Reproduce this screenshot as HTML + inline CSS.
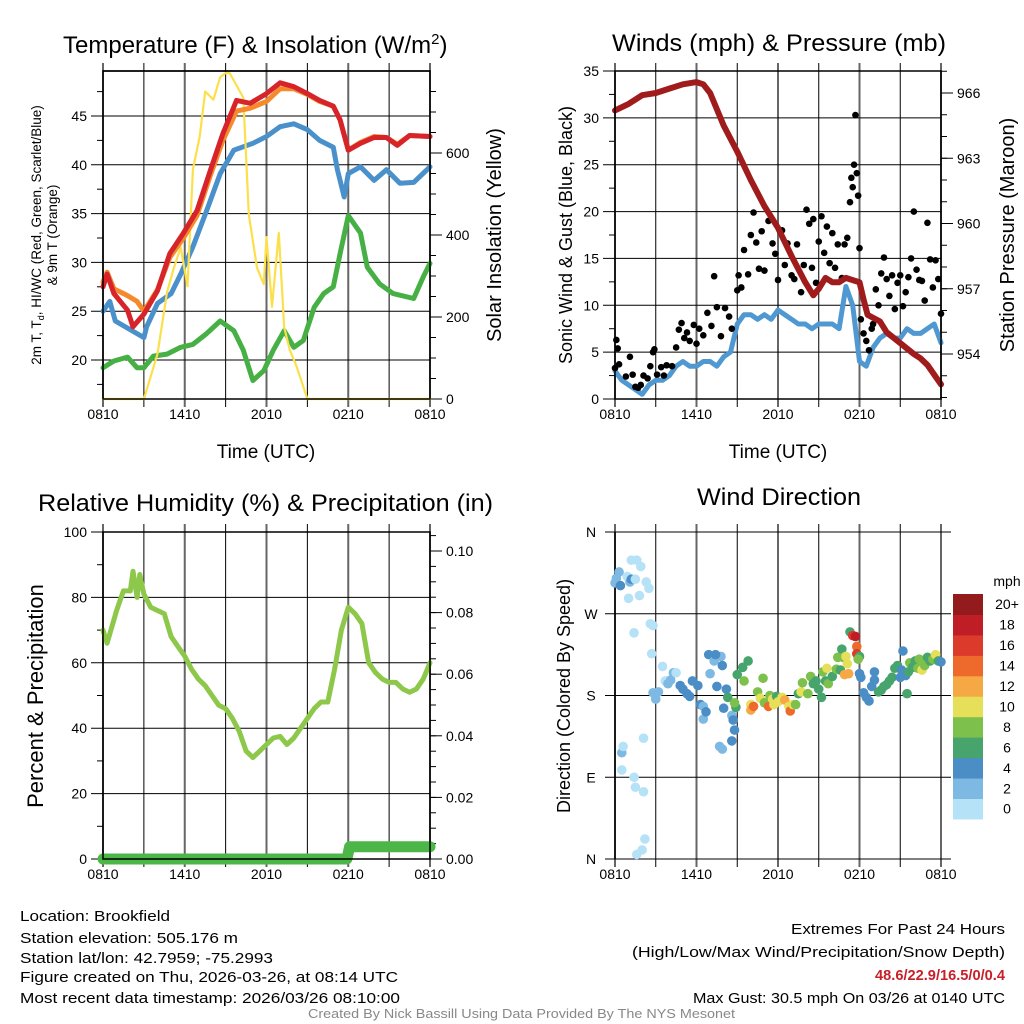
<!DOCTYPE html>
<html><head><meta charset="utf-8">
<style>
html,body{margin:0;padding:0;background:#fff;}
svg{display:block;font-family:"Liberation Sans",Arial,sans-serif;}
</style></head>
<body>
<svg id="fig" width="1024" height="1024" viewBox="0 0 1024 1024" xmlns="http://www.w3.org/2000/svg">
<g id="txt" fill="#000">
<text x="63" y="53" font-size="24">Temperature (F) &amp; Insolation (W/m<tspan dy="-9" font-size="15">2</tspan><tspan dy="9">)</tspan></text>
<text x="612" y="51" font-size="24" textLength="334" lengthAdjust="spacingAndGlyphs">Winds (mph) &amp; Pressure (mb)</text>
<text x="38" y="511" font-size="24" textLength="455" lengthAdjust="spacingAndGlyphs">Relative Humidity (%) &amp; Precipitation (in)</text>
<text x="697" y="505" font-size="24" textLength="164" lengthAdjust="spacingAndGlyphs">Wind Direction</text>
<text x="266" y="458" font-size="19" text-anchor="middle">Time (UTC)</text>
<text x="778" y="458" font-size="19" text-anchor="middle">Time (UTC)</text>
<text transform="translate(41,235) rotate(-90)" font-size="13.5" text-anchor="middle">2m T, T<tspan dy="3" font-size="9">d</tspan><tspan dy="-3">, HI/WC (Red, Green, Scarlet/Blue)</tspan></text>
<text transform="translate(57,235) rotate(-90)" font-size="13.5" text-anchor="middle">&amp; 9m T (Orange)</text>
<text transform="translate(501,235) rotate(-90)" font-size="20" text-anchor="middle">Solar Insolation (Yellow)</text>
<text transform="translate(572,235) rotate(-90)" font-size="18" text-anchor="middle">Sonic Wind &amp; Gust (Blue, Black)</text>
<text transform="translate(1014,235) rotate(-90)" font-size="20" text-anchor="middle">Station Pressure (Maroon)</text>
<text transform="translate(43,696) rotate(-90)" font-size="22" text-anchor="middle">Percent &amp; Precipitation</text>
<text transform="translate(570,696) rotate(-90)" font-size="18" text-anchor="middle">Direction (Colored By Speed)</text>
<text x="1007" y="586" font-size="14" text-anchor="middle">mph</text>
<g font-size="15">
<text x="20" y="921" textLength="150" lengthAdjust="spacingAndGlyphs">Location: Brookfield</text>
<text x="20" y="943" textLength="218" lengthAdjust="spacingAndGlyphs">Station elevation: 505.176 m</text>
<text x="20" y="963" textLength="253" lengthAdjust="spacingAndGlyphs">Station lat/lon: 42.7959; -75.2993</text>
<text x="20" y="982" textLength="378" lengthAdjust="spacingAndGlyphs">Figure created on Thu, 2026-03-26, at 08:14 UTC</text>
<text x="20" y="1003" textLength="380" lengthAdjust="spacingAndGlyphs">Most recent data timestamp: 2026/03/26 08:10:00</text>
</g>
<g font-size="15">
<text x="791" y="934" textLength="214" lengthAdjust="spacingAndGlyphs">Extremes For Past 24 Hours</text>
<text x="632" y="957" textLength="373" lengthAdjust="spacingAndGlyphs">(High/Low/Max Wind/Precipitation/Snow Depth)</text>
<text x="875" y="980" textLength="130" lengthAdjust="spacingAndGlyphs" fill="#c8202a" font-weight="bold">48.6/22.9/16.5/0/0.4</text>
<text x="693" y="1003" textLength="312" lengthAdjust="spacingAndGlyphs">Max Gust: 30.5 mph On 03/26 at 0140 UTC</text>
</g>
<text x="308" y="1018" font-size="12.5" textLength="427" lengthAdjust="spacingAndGlyphs" fill="#888">Created By Nick Bassill Using Data Provided By The NYS Mesonet</text>
</g>
</svg>
<script>
// ---------- DATA ----------
const timeLabels = ["0810","1410","2010","0210","0810"];
const tempTickLabels = [20,25,30,35,40,45];
const solarTickLabels = [0,200,400,600];
const windTickLabels = [0,5,10,15,20,25,30,35];
const presTickLabels = [954,957,960,963,966];
const rhTickLabels = [0,20,40,60,80,100];
const precipTickLabels = ["0.00","0.02","0.04","0.06","0.08","0.10"];
const dirTickLabels = ["N","E","S","W","N"];
const colorbarLabels = ["0","2","4","6","8","10","12","14","16","18","20+"];

const redT = [0,0.3,0.8,1.8,2.2,3,4,4.9,5.9,6.9,7.9,8.8,9.8,10.8,12,13,14,15,15.9,16.9,17.4,18,18.9,19.9,20.8,21.6,22.5,24];
const redV = [27.5,28.8,26.8,25.1,23.4,24.7,27.1,30.9,33,35.3,39.5,43.2,46.6,46.3,47.3,48.4,48,47.3,46.6,46,44.6,41.5,42.2,42.8,42.8,42,43,42.9];
const orgT = [0,0.3,0.8,1.8,2.5,3,4,4.9,5.9,6.9,7.9,8.8,9.8,10.8,12,13,14,15,15.9,16.9,17.4,18,18.9,19.9,20.8,21.6,22.5,24];
const orgV = [28,29,27.3,26.6,26,25,27.2,30.5,32.5,34.8,39,42.5,45.5,45.8,46.5,47.8,47.8,47.2,46.5,46,44.6,41.5,42.3,42.9,42.8,42.1,43,42.9];
const tdT = [0,0.5,0.9,3,3.2,4,5,5.7,6.6,7.6,8.6,9.6,11,12,13,14,15,15.9,16.9,17.2,17.7,18,18.9,19.9,20.8,21.8,22.8,24];
const tdV = [25,26,24,22.3,23.4,25.8,26.8,28.8,31.6,35.3,39.1,41.5,42.2,42.9,43.9,44.2,43.6,42.5,41.8,39.5,36.7,39.1,39.8,38.4,39.5,38.1,38.2,39.8];
const dewT = [0,0.8,1.8,2.5,3,3.7,4.7,5.7,6.6,7.6,8.6,9.6,10.3,11,11.8,12.5,13.3,14,14.7,15.5,16.2,16.9,17.4,18,18.9,19.4,20.3,21.3,22.8,23.5,24];
const dewV = [19.2,19.9,20.3,19.2,19.2,20.4,20.6,21.3,21.6,22.7,24,23,21,17.9,18.9,21,23,21.3,22,25.4,26.8,27.5,30.9,34.8,33,29.5,27.8,26.8,26.3,28.5,29.9];
const solT = [0,3,4,4.7,5.2,5.7,6.2,6.6,7.1,7.5,8.1,8.6,9,9.3,9.8,10.3,10.7,11.3,11.8,12,12.4,12.9,13.3,13.7,14.2,15,24];
const solV = [0,0,110,260,320,370,275,560,640,750,730,785,795,795,765,735,450,320,280,395,225,405,175,120,80,0,0];

const windT = [0,0.5,1,1.5,2,2.5,3,3.5,4,4.5,5,5.5,6,6.5,7,7.5,8,8.5,9,9.5,10,10.5,11,11.5,12,12.5,13,13.5,14,14.5,15,15.5,16,16.5,17,17.5,18,18.5,19,19.5,20,20.5,21,21.5,22,22.5,23,23.5,24];
const windV = [3,2,1.5,1,0.5,1.5,2,2,2.5,3.5,4,3.5,3.5,4,4,3.5,4.5,5,8,9,9,8.5,9,8.5,9.5,9,8.5,8,8,7.5,8,8,8,7.5,12,10,4,3.5,5.5,6.5,7,6.5,6.5,7.5,7,7,7.5,8,6];
const presT = [0,1,2,3,4,5,6,6.5,7,8,9,10,11,12,13,14,14.6,15,15.5,16,16.5,17,17.5,18,18.3,18.6,19.5,20,21,22,22.5,23,24];
const presV = [965.2,965.5,965.9,966,966.2,966.4,966.5,966.4,966,964.5,963.3,962,960.8,959.8,958.5,957.3,956.7,957,957.5,957.3,957.3,957.5,957.4,957.3,956.5,955.8,955.5,955,954.5,954,953.8,953.5,952.6];
const gustT = [0,0.1,0.2,0.3,0.8,1.1,1.3,1.5,1.7,1.9,2.1,2.4,2.6,2.8,2.9,3.1,3.4,3.6,3.8,4.2,4.5,4.7,4.9,5.1,5.3,5.5,5.8,6,6.2,6.5,6.8,7.1,7.3,7.5,7.8,8.1,8.4,8.6,9,9.1,9.3,9.5,9.8,10,10.2,10.4,10.6,10.8,11,11.3,11.6,11.8,12,12.3,12.5,12.7,13,13.2,13.4,13.7,13.9,14.1,14.3,14.5,14.6,14.8,15,15.2,15.4,15.6,15.8,16,16.2,16.4,16.7,16.9,17.1,17.3,17.4,17.5,17.6,17.7,17.8,17.9,18,18.1,18.3,18.5,18.7,18.9,19,19.2,19.4,19.6,19.8,20,20.2,20.4,20.6,20.8,21,21.2,21.4,21.6,21.8,22,22.2,22.4,22.6,22.8,23,23.2,23.4,23.6,23.8,24];
const gustV = [3.3,6.3,5.4,3.7,2.4,4.5,2.6,1.3,1.2,1.5,2.5,2.2,3.5,5,5.3,2.6,3.4,2.5,3.6,3.5,5.5,7.4,8.1,6.5,7.1,6.2,7.9,5.9,7.5,6.8,9.2,7.8,13.1,9.8,6.7,9.7,8.8,7.5,11.6,13.2,11.9,15.9,13.3,17.5,19.9,16.7,13.9,17.9,13.7,19,16.6,15.5,12.7,18,14.3,16.6,13.2,12.8,16.5,11.4,14.3,20.2,18.7,14,19.2,12.4,16.8,19.5,15.6,18.4,14.5,17.7,14,16.5,12.9,16.5,17.2,21,23.6,22.6,25,30.3,24.1,21.7,16.1,8.5,7,6.2,5.2,7.5,8,11.7,10,13.4,15.1,12.8,11,13.2,9.6,12.4,13.2,9.9,11.4,13,15,20,13.8,12.7,12.6,10.5,18.8,14.9,11.9,14.8,12.8,9.1];

const rhT = [0,0.3,1,1.5,2,2.2,2.5,2.7,3,3.5,4,4.5,5,5.5,6,6.5,7,7.5,8,8.5,9,9.5,10,10.5,11,11.5,12,12.5,13,13.5,14,14.5,15,15.5,16,16.5,17,17.5,18,18.5,19,19.5,20,20.5,21,21.5,22,22.5,23,23.5,24];
const rhV = [70,66,76,82,82,88,80,87,81,77,76,75,68,65,62,58,55,53,50,47,46,43,39,33,31,33,35,37,37.5,35,37,40,43,46,48,48,58,70,77,75,72,60,57,55,54,54,52,51,52,55,60];
const precipT = [0,17.9,18.1,24];
const precipV = [0,0,0.004,0.004];

const dirT = [0,0.1,0.3,0.4,0.9,1.1,1.2,1,1.2,1.5,1.6,1.8,1.9,2.3,2.5,1.4,2.6,2.8,2.7,0.5,0.6,0.5,1.4,1.5,2.1,2.1,2.2,1.6,2,2.8,3,3.2,3.5,3.7,3.9,4.1,4.3,4.5,4.8,5,5.3,5.5,5.7,6.1,6.3,6.5,6.5,6.7,6.9,7,7.3,7.5,7.8,7.9,8.2,8.3,7.4,8,8.6,8.7,8.8,8.9,7.7,7.9,8.6,8.8,9,9.4,9.5,9.8,10,10,10.2,10.5,10.7,10.9,11,11.3,11.4,11.6,11.7,11.9,12,12.3,12.5,12.8,12.9,13.1,13.3,13.5,13.7,13.8,14.2,14.4,14.6,14.8,15,15.2,15.3,15.5,15.6,15.7,16,16.3,16.6,16.4,16.7,16.8,17,17.1,17.2,17.3,17.5,17.7,17.8,17.8,18,17.9,16.9,18,18.1,18.3,18.5,18.7,18.9,19.1,19.1,19.4,19.6,19.8,20,20.2,20.4,20.6,20.8,21,21.1,21.2,21.4,21.6,21.7,21.9,22.1,22.3,22.4,22.6,22.8,23,23.2,23.4,23.6,23.8,24,21.5];
const dirV = [304,309,316,301,311,305,308,287,329,308,329,290,322,305,298,249,259,257,226,117,124,98,90,79,133,74,22,5,10,183,176,184,212,196,193,197,205,205,191,187,182,179,196,191,170,168,154,162,225,204,218,190,223,213,187,178,225,166,158,153,142,167,124,121,130,172,203,211,196,218,170,164,168,184,177,199,172,168,180,176,170,179,173,178,175,168,163,170,170,182,184,194,182,201,193,196,187,178,206,196,210,193,201,209,208,222,231,222,223,215,204,250,246,245,234,226,223,220,203,204,200,183,178,174,190,197,206,184,186,190,192,196,200,210,213,200,208,229,202,206,216,211,218,210,220,208,213,222,218,220,225,218,217,182];
const dirSpd = [3,3,2,4,1,3,4,1,0,1,0,1,1,1,1,1,1,1,1,3,1,1,1,1,1,1,1,1,1,3,3,2,1,1,2,3,2,1,4,4,5,4,4,4,4,3,2,4,5,3,2,4,2,4,5,6,4,4,3,4,5,6,3,2,4,8,7,7,8,6,10,12,14,8,10,8,8,14,8,10,10,6,10,10,12,11,14,10,8,6,10,8,8,8,6,6,7,6,8,6,10,8,6,8,6,8,7,9,11,10,13,6,17,18,15,16,6,8,12,4,4,4,4,4,4,5,4,6,6,7,6,6,7,6,6,4,5,4,4,6,8,6,6,8,8,10,8,7,6,8,10,6,4,6];
const binColors = ["#b5e2f7","#7db9e2","#4b8ec6","#47a46c","#7dc04b","#e6df59","#f5a844","#ee6a2c","#dc3a2a","#bf1e26","#931a1d"];

// ---------- HELPERS ----------
const NS="http://www.w3.org/2000/svg";
const svg=document.getElementById('fig');
function mk(tag,attrs,parent){const e=document.createElementNS(NS,tag);for(const k in attrs)e.setAttribute(k,attrs[k]);(parent||svg).appendChild(e);return e;}
function lin(d0,d1,r0,r1){return v=>r0+(v-d0)*(r1-r0)/(d1-d0);}
function poly(xs,ys,sx,sy,stroke,w,parent){let p=xs.map((t,i)=>sx(t).toFixed(1)+","+sy(ys[i]).toFixed(1)).join(" ");return mk('polyline',{points:p,fill:'none',stroke:stroke,'stroke-width':w,'stroke-linejoin':'round','stroke-linecap':'round'},parent);}

function frame(P,name){
  const g=mk('g',{});
  
  
  const sx=lin(0,24,P.L,P.R);
  for(let h=0;h<=24;h+=3){
    const lab=(h%6===0);
    const gl=mk('line',{x1:sx(h),x2:sx(h),y1:P.T-8,y2:P.B+8,stroke:lab?'#666':'#000','stroke-width':lab?2:1},g);
    
    
    if(lab){
      const t=mk('text',{x:sx(h),y:P.B+20,'font-size':14,'text-anchor':'middle'},g);
      t.textContent=timeLabels[h/6];
      
      
    }
  }
  return {g,sx};
}
function yAxisLeft(P,g,sy,ticks,labels,minors){
  ticks.forEach((v,i)=>{
    mk('line',{x1:P.L-12,x2:P.R,y1:sy(v),y2:sy(v),stroke:'#000','stroke-width':1},g);
    const t=mk('text',{x:P.L-16,y:sy(v)+5,'font-size':14,'text-anchor':'end'},g);
    t.textContent=labels[i];
    
    
  });
  minors.forEach(v=>mk('line',{x1:P.L-6,x2:P.L,y1:sy(v),y2:sy(v),stroke:'#000','stroke-width':1},g));
}
function yAxisRight(P,g,sy,ticks,labels,minors){
  ticks.forEach((v,i)=>{
    mk('line',{x1:P.R,x2:P.R+12,y1:sy(v),y2:sy(v),stroke:'#000','stroke-width':1},g);
    const t=mk('text',{x:P.R+16,y:sy(v)+5,'font-size':14,'text-anchor':'start'},g);
    t.textContent=labels[i];
    
    
  });
  minors.forEach(v=>mk('line',{x1:P.R,x2:P.R+6,y1:sy(v),y2:sy(v),stroke:'#000','stroke-width':1},g));
}
function border(P,g){
  mk('rect',{x:P.L,y:P.T,width:P.R-P.L,height:P.B-P.T,fill:'none',stroke:'#000','stroke-width':1.5},g);
}
function range(a,b,s){const r=[];for(let v=a;v<=b+1e-9;v+=s)r.push(+v.toFixed(4));return r;}

// ---------- PANEL 1: Temperature ----------
(function(){
  const P={L:103,R:430,T:71,B:399};
  const {g,sx}=frame(P,'temperature');
  const sy=lin(20,45,360,116);
  const sy2=lin(0,600,399,153);
  yAxisLeft(P,g,sy,tempTickLabels,tempTickLabels,range(17.5,47.5,5));
  yAxisRight(P,g,sy2,solarTickLabels,solarTickLabels,range(50,750,50));
  mk('line',{x1:P.L,x2:P.R,y1:P.T,y2:P.T,stroke:'#000','stroke-width':1.5},g);
  const s=mk('g',{});
  
  
  let e;
  e=poly(dewT,dewV,sx,sy,'#46b045',5,s);  
  e=poly(tdT,tdV,sx,sy,'#4a90cb',5,s);  
  e=poly(solT,solV,sx,sy2,'#fbe04c',2.2,s);  
  e=poly(orgT,orgV,sx,sy,'#f58a2c',5,s);  
  e=poly(redT,redV,sx,sy,'#d7242a',5,s);  
  border(P,svg);
})();

// ---------- PANEL 2: Winds ----------
(function(){
  const P={L:615,R:941,T:71,B:399};
  const {g,sx}=frame(P,'winds');
  const sy=lin(0,35,399,71);
  const sy2=lin(954,966,354,93);
  yAxisLeft(P,g,sy,windTickLabels,windTickLabels,range(2.5,32.5,5));
  yAxisRight(P,g,sy2,presTickLabels,presTickLabels,range(952,967,1));
  const s=mk('g',{});
  
  
  let e=poly(windT,windV,sx,sy,'#4f98d2',5,s);
  
  
  gustT.forEach((t,i)=>{
    const c=mk('circle',{cx:sx(t),cy:sy(gustV[i]),r:3.3,fill:'#000'},s);
    
    
  });
  e=poly(presT,presV,sx,sy2,'#a01c1c',6,s);
  
  
  border(P,svg);
})();

// ---------- PANEL 3: RH ----------
(function(){
  const P={L:103,R:430,T:532,B:859};
  const {g,sx}=frame(P,'humidity');
  const sy=lin(0,100,859,532);
  const sy2=lin(0,0.1,859,551);
  yAxisLeft(P,g,sy,rhTickLabels,rhTickLabels,range(10,90,20));
  yAxisRight(P,g,sy2,[0,0.02,0.04,0.06,0.08,0.1],precipTickLabels,range(0.005,0.105,0.005));
  const s=mk('g',{});
  
  
  let e=poly(rhT,rhV,sx,sy,'#8dc84a',5,s);
  
  
  e=poly(precipT,precipV,sx,sy2,'#4cb648',11,s);
  
  
  border(P,svg);
})();

// ---------- PANEL 4: Wind direction ----------
(function(){
  const P={L:615,R:941,T:532,B:859};
  const {g,sx}=frame(P,'direction');
  const sy=lin(0,360,859,532);
  [0,90,180,270,360].forEach((v,i)=>{
    mk('line',{x1:P.L-10,x2:P.R+10,y1:sy(v),y2:sy(v),stroke:'#000','stroke-width':1},g);
    const t=mk('text',{x:P.L-24,y:sy(v)+5,'font-size':14,'text-anchor':'middle'},g);
    t.textContent=dirTickLabels[i];
    
    
  });
  mk('line',{x1:P.L,x2:P.L,y1:P.T,y2:P.B,stroke:'#000','stroke-width':1.5},g);
  const s=mk('g',{});
  
  
  dirT.forEach((t,i)=>{
    const b=Math.max(0,Math.min(10,Math.floor(dirSpd[i]/2)));
    const c=mk('circle',{cx:sx(t),cy:sy(dirV[i]),r:4.8,fill:binColors[b]},s);
    
    
  });
  const cb=mk('g',{});
  
  
  const top=594,bh=20.45;
  binColors.forEach((col,i)=>{
    const y=top+(10-i)*bh;
    const r=mk('rect',{x:953,y:y,width:30,height:bh+0.5,fill:col},cb);
    
    
    const t=mk('text',{x:1007,y:y+bh/2+5,'font-size':14,'text-anchor':'middle'},cb);
    t.textContent=colorbarLabels[i];
    
    
  });
})();
</script>
</body></html>
